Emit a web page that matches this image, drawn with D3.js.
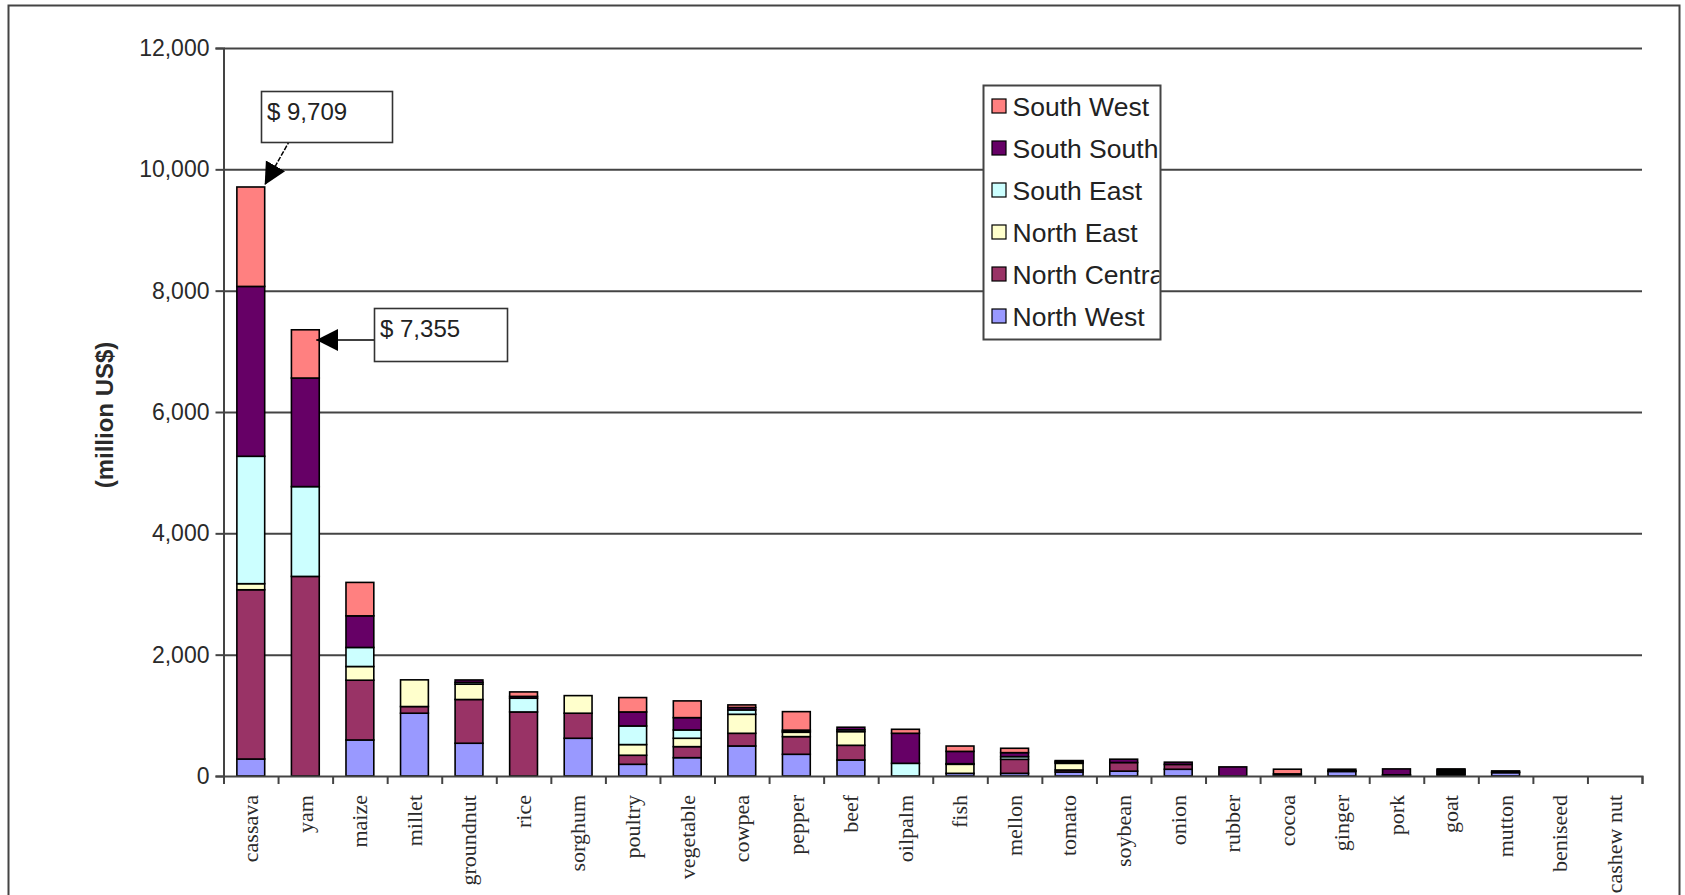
<!DOCTYPE html>
<html>
<head>
<meta charset="utf-8">
<script src="https://cdn.jsdelivr.net/npm/d3@7"></script>
<style>
  body { margin: 0; background: #fff; }
  svg { display: block; }
</style>
</head>
<body>
<div id="chart"></div>
<script>
const categories = ["cassava", "yam", "maize", "millet", "groundnut", "rice", "sorghum", "poultry",
  "vegetable", "cowpea", "pepper", "beef", "oilpalm", "fish", "mellon", "tomato", "soybean",
  "onion", "rubber", "cocoa", "ginger", "pork", "goat", "mutton", "beniseed", "cashew nut"];

// million US$ per region
const northWest    = [280, 0, 594, 1035, 540, 0, 622, 193, 302, 495, 358, 264, 0, 44, 44, 66, 80, 111, 0, 0, 75, 0, 20, 55, 0, 0];
const northCentral = [2790, 3290, 985, 110, 721, 1056, 413, 149, 182, 209, 291, 242, 0, 0, 231, 33, 142, 80, 0, 0, 10, 10, 20, 10, 0, 0];
const northEast    = [100, 0, 226, 440, 252, 0, 290, 176, 138, 313, 72, 226, 0, 149, 0, 110, 0, 0, 0, 0, 0, 0, 20, 0, 0, 0];
const southEast    = [2100, 1480, 314, 0, 30, 226, 0, 307, 137, 72, 15, 30, 209, 10, 44, 15, 0, 0, 0, 10, 0, 10, 20, 0, 0, 0];
const southSouth   = [2800, 1790, 521, 0, 40, 30, 0, 231, 203, 40, 20, 42, 495, 203, 66, 20, 55, 37, 150, 25, 27, 97, 20, 19, 0, 0];
const southWest    = [1639, 795, 551, 0, 0, 74, 0, 237, 276, 43, 305, 0, 66, 88, 72, 10, 0, 0, 0, 77, 0, 0, 17, 0, 0, 0];

const regions = ["North West", "North Central", "North East", "South East", "South South", "South West"];
const regionValues = [northWest, northCentral, northEast, southEast, southSouth, southWest];
const regionColors = ["#9999ff", "#993366", "#ffffcc", "#ccffff", "#660066", "#ff8080"];

const yTicks = [0, 2000, 4000, 6000, 8000, 10000, 12000];
const callouts = [
  {cat: "cassava", label: "$ 9,709"},
  {cat: "yam", label: "$ 7,355"}
];

const W = 1685, H = 895;
const plot = {left: 223.5, right: 1642, top: 48, bottom: 776};

const svg = d3.select("#chart").append("svg")
  .attr("width", W)
  .attr("height", H);

svg.append("rect").attr("width", W).attr("height", H).attr("fill", "#fff");

// outer frame (bottom edge falls off the picture)
svg.append("rect")
  .attr("x", 8.5).attr("y", 5.5)
  .attr("width", 1671).attr("height", 1000)
  .attr("fill", "none")
  .attr("stroke", "#444")
  .attr("stroke-width", 2);

const x = d3.scaleBand()
  .domain(categories)
  .range([plot.left, plot.right])
  .paddingInner(0.49)
  .paddingOuter(0.245);

const xEdge = d3.scaleLinear()
  .domain([0, categories.length])
  .range([plot.left, plot.right]);

const y = d3.scaleLinear()
  .domain([0, 12000])
  .range([plot.bottom, plot.top]);

// gridlines
svg.append("g")
  .attr("transform", `translate(${plot.left},0)`)
  .call(d3.axisLeft(y).tickValues(yTicks.slice(1)).tickSize(-(plot.right - plot.left)).tickFormat(""))
  .call(g => g.select(".domain").remove())
  .call(g => g.selectAll("line").attr("stroke", "#444").attr("stroke-width", 2));

// stacked bars
const rows = categories.map((c, i) => {
  const r = {cat: c};
  regions.forEach((name, k) => r[name] = regionValues[k][i]);
  return r;
});
const series = d3.stack().keys(regions)(rows);

svg.append("g").selectAll("g")
  .data(series)
  .join("g")
    .attr("fill", (d, i) => regionColors[i])
  .selectAll("rect")
  .data(d => d.filter(p => p[1] - p[0] > 0))
  .join("rect")
    .attr("x", d => x(d.data.cat))
    .attr("y", d => y(d[1]))
    .attr("width", x.bandwidth())
    .attr("height", d => y(d[0]) - y(d[1]))
    .attr("stroke", "#000")
    .attr("stroke-width", 1.6);

// y axis
svg.append("g")
  .attr("transform", `translate(${plot.left},0)`)
  .call(d3.axisLeft(y).tickValues(yTicks).tickSize(8).tickPadding(6).tickFormat(d3.format(",")))
  .call(g => g.select(".domain").attr("stroke", "#444").attr("stroke-width", 2))
  .call(g => g.selectAll("line").attr("stroke", "#444").attr("stroke-width", 2))
  .call(g => g.selectAll("text")
    .attr("font-family", "Liberation Sans, Arial, sans-serif")
    .attr("font-size", "23px")
    .attr("fill", "#2a2a2a"));

// x axis: ticks between categories
svg.append("g")
  .attr("transform", `translate(0,${plot.bottom})`)
  .call(d3.axisBottom(xEdge).tickValues(d3.range(categories.length + 1)).tickSize(8).tickFormat(""))
  .call(g => g.select(".domain").attr("stroke", "#444").attr("stroke-width", 2))
  .call(g => g.selectAll("line").attr("stroke", "#444").attr("stroke-width", 2));

// x axis labels
svg.append("g")
  .attr("transform", `translate(0,${plot.bottom})`)
  .call(d3.axisBottom(x).tickSize(0))
  .call(g => g.select(".domain").remove())
  .call(g => g.selectAll("text")
    .attr("font-family", "Liberation Serif, Times New Roman, serif")
    .attr("font-size", "22px")
    .attr("fill", "#2a2a2a")
    .attr("text-anchor", "end")
    .attr("transform", "rotate(-90)")
    .attr("x", -19)
    .attr("y", 0)
    .attr("dy", "0.33em"));

// y axis title
svg.append("text")
  .attr("transform", `translate(113,415) rotate(-90)`)
  .attr("text-anchor", "middle")
  .attr("font-family", "Liberation Sans, Arial, sans-serif")
  .attr("font-size", "24px")
  .attr("font-weight", "bold")
  .attr("fill", "#2a2a2a")
  .text("(million US$)");

// legend
const legend = svg.append("g");
const lg = {x: 983.5, y: 85.5, w: 177, h: 254};
svg.append("clipPath").attr("id", "legclip")
  .append("rect").attr("x", lg.x).attr("y", lg.y).attr("width", lg.w - 1).attr("height", lg.h);
legend.append("rect")
  .attr("x", lg.x).attr("y", lg.y)
  .attr("width", lg.w).attr("height", lg.h)
  .attr("fill", "#fff")
  .attr("stroke", "#444")
  .attr("stroke-width", 2);
const legendOrder = d3.range(regions.length).reverse();
const items = legend.append("g").attr("clip-path", "url(#legclip)")
  .selectAll("g")
  .data(legendOrder)
  .join("g")
    .attr("transform", (k, i) => `translate(${lg.x}, ${lg.y + 21 + i * 42})`);
items.append("rect")
  .attr("x", 8.5).attr("y", -7.5)
  .attr("width", 14).attr("height", 14)
  .attr("fill", k => regionColors[k])
  .attr("stroke", "#000")
  .attr("stroke-width", 1.2);
items.append("text")
  .attr("x", 29).attr("y", 9)
  .attr("font-family", "Liberation Sans, Arial, sans-serif")
  .attr("font-size", "26.5px")
  .attr("fill", "#222")
  .text(k => regions[k]);

// callouts
svg.append("defs").append("marker")
  .attr("id", "arrow")
  .attr("markerUnits", "userSpaceOnUse")
  .attr("viewBox", "0 0 10 10")
  .attr("refX", 10).attr("refY", 5)
  .attr("markerWidth", 22).attr("markerHeight", 24)
  .attr("orient", "auto")
  .append("path")
    .attr("d", "M0,0L10,5L0,10z")
    .attr("fill", "#000");

const totals = categories.map((c, i) => d3.sum(regionValues, v => v[i]));
const boxes = [
  {x: 261, y: 91, w: 131, h: 51, tx: 267, ty: 120, from: [290, 140], dash: "5,1.5"},
  {x: 374, y: 308, w: 133, h: 53, tx: 380, ty: 337, from: [374, 340], dash: null}
];
callouts.forEach((c, i) => {
  const b = boxes[i];
  const idx = categories.indexOf(c.cat);
  const tipX = x(c.cat) + x.bandwidth();
  const tipY = i === 0 ? y(totals[idx]) - 2 : 340;
  svg.append("line")
    .attr("x1", b.from[0]).attr("y1", b.from[1])
    .attr("x2", tipX + (i === 0 ? 0 : -3)).attr("y2", tipY)
    .attr("stroke", "#000")
    .attr("stroke-width", 1.5)
    .attr("stroke-dasharray", b.dash)
    .attr("marker-end", "url(#arrow)");
  svg.append("rect")
    .attr("x", b.x + 0.5).attr("y", b.y + 0.5)
    .attr("width", b.w).attr("height", b.h)
    .attr("fill", "#fff")
    .attr("stroke", "#333")
    .attr("stroke-width", 1.6);
  svg.append("text")
    .attr("x", b.tx).attr("y", b.ty)
    .attr("font-family", "Liberation Sans, Arial, sans-serif")
    .attr("font-size", "24px")
    .attr("fill", "#222")
    .text(c.label);
});
</script>
</body>
</html>
